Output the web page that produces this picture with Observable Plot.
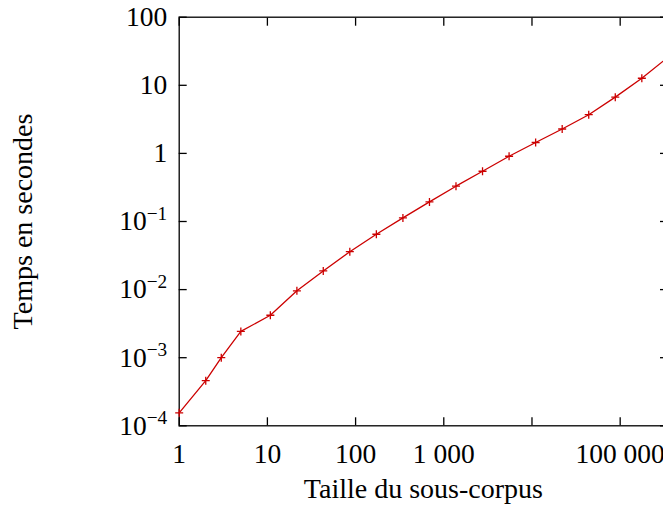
<!DOCTYPE html>
<html>
<head>
<meta charset="utf-8">
<script src="https://cdn.jsdelivr.net/npm/d3@7"></script>
<script src="https://cdn.jsdelivr.net/npm/@observablehq/plot@0.6"></script>
<style>
  html, body { margin: 0; padding: 0; background: white; overflow: hidden; }
  #chart { width: 663px; height: 513px; overflow: hidden; }
  #chart svg { max-width: none !important; }
</style>
</head>
<body>
<div id="chart"></div>
<script>
// Data
const sizes = [1, 2, 3, 5, 10.8, 21.6, 43, 86, 172, 344, 688, 1375, 2750, 5500, 11000, 22000, 44000, 88000, 176000, 344000];
const times = [1.55e-4, 4.6e-4, 1.0e-3, 2.43e-3, 4.2e-3, 9.6e-3, 1.88e-2, 3.6e-2, 6.5e-2, 0.113, 0.194, 0.33, 0.547, 0.908, 1.445, 2.28, 3.7, 6.7, 12.7, 25.5];

const xTicks = [1, 10, 100, 1000, 10000, 100000];
const xTickLabels = ["1", "10", "100", "1 000", "", "100 000"];
const yTicks = [1e-4, 1e-3, 1e-2, 1e-1, 1, 10, 100];
const yTickLabels = ["10^−4", "10^−3", "10^−2", "10^−1", "1", "10", "100"];

const xLabel = "Taille du sous-corpus";
const yLabel = "Temps en secondes";

const data = sizes.map((s, i) => ({size: s, time: times[i]}));
const red = "#cc0000";
const FS = 28;
const TFS = 27.5;

const chart = Plot.plot({
  width: 670,
  height: 513,
  marginLeft: 178.7,
  marginRight: 3,
  marginTop: 16.7,
  marginBottom: 87.7,
  style: {fontFamily: "'Liberation Serif', serif", fontSize: FS + "px", color: "black", background: "white", maxWidth: "none"},
  x: {type: "log", domain: [1, 344000]},
  y: {type: "log", domain: [1e-4, 100]},
  marks: [
    // inward ticks on all four sides
    Plot.axisX({anchor: "bottom", ticks: xTicks, tickSize: -8, tickFormat: () => "", label: null, strokeWidth: 1.3}),
    Plot.axisX({anchor: "top", ticks: xTicks, tickSize: -8, tickFormat: () => "", label: null, strokeWidth: 1.3}),
    Plot.axisY({anchor: "left", ticks: yTicks, tickSize: -8, tickFormat: () => "", label: null, strokeWidth: 1.3}),
    Plot.axisY({anchor: "right", ticks: yTicks, tickSize: -8, tickFormat: () => "", label: null, strokeWidth: 1.3}),
    // tick labels
    Plot.axisX({anchor: "bottom", ticks: xTicks, tickSize: 0, tickPadding: 18, fontSize: TFS,
      tickFormat: d => xTickLabels[xTicks.indexOf(d)], label: null}),
    Plot.axisY({anchor: "left", ticks: yTicks, tickSize: 0, tickPadding: 12, fontSize: TFS,
      tickFormat: d => yTickLabels[yTicks.indexOf(d)], label: null}),
    Plot.frame({stroke: "black", strokeWidth: 1.3}),
    Plot.line(data, {x: "size", y: "time", stroke: red, strokeWidth: 1.3}),
    Plot.dot(data, {x: "size", y: "time", symbol: "plus", r: 2.7, stroke: red, strokeWidth: 1.3}),
    Plot.text([xLabel], {frameAnchor: "bottom", dy: 72, text: d => d, fontSize: FS, fill: "black"}),
    Plot.text([yLabel], {frameAnchor: "left", textAnchor: "middle", dx: -156, rotate: -90, text: d => d, fontSize: FS, fill: "black"})
  ]
});

// render superscripts for "10^−n" labels
const NS = "http://www.w3.org/2000/svg";
chart.querySelectorAll("text").forEach(t => {
  const s = t.textContent;
  if (s.includes("^")) {
    const [base, exp] = s.split("^");
    t.textContent = "";
    const b = document.createElementNS(NS, "tspan");
    b.textContent = base;
    const e = document.createElementNS(NS, "tspan");
    e.textContent = exp;
    e.setAttribute("font-size", "0.7em");
    e.setAttribute("dy", "-0.55em");
    t.appendChild(b);
    t.appendChild(e);
  }
});

document.getElementById("chart").appendChild(chart);
</script>
</body>
</html>
